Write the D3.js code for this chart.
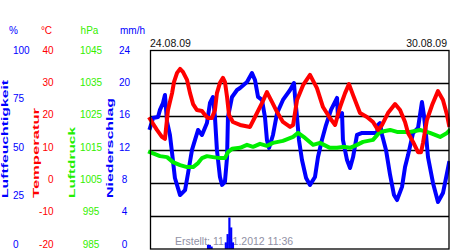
<!DOCTYPE html>
<html>
<head>
<meta charset="utf-8">
<script src="https://cdn.jsdelivr.net/npm/d3@7"></script>
<style>
  html, body { margin: 0; padding: 0; background: #fff; }
  svg { display: block; font-family: "Liberation Sans", Arial, sans-serif; }
</style>
</head>
<body>
<div id="chart"></div>
<script>
// hours since 24.08.09 00:00, values in axis units
const humidity = [[0,60.8],[1.7,65.8],[4.5,66.3],[5.6,69.9],[7.3,73.4],[8.4,77.4],[9.6,63.8],[11.2,57.3],[12.4,48.2],[14.0,35.7],[16.9,27.1],[19.7,29.6],[21.4,38.2],[23.6,49.8],[25.3,54.8],[27.0,59.8],[29.2,57.3],[32.0,63.3],[33.7,73.4],[35.4,76.4],[36.5,66.3],[37.6,49.8],[39.3,36.2],[40.5,32.2],[42.1,33.7],[43.3,46.2],[43.8,66.3],[46.1,76.4],[48.9,79.9],[50.6,80.9],[54.5,83.9],[57.3,88.4],[59.0,84.9],[60.7,76.4],[62.9,74.9],[64.6,66.3],[65.7,54.8],[66.9,50.8],[69.1,57.3],[71.4,68.3],[74.7,74.9],[78.7,79.9],[80.9,83.4],[81.5,76.4],[82.6,66.3],[83.7,54.8],[85.4,44.7],[87.7,35.7],[89.9,32.2],[92.7,36.2],[94.4,46.2],[96.6,54.8],[98.9,62.3],[101.7,69.9],[105.1,75.9],[105.6,66.3],[107.9,68.3],[108.4,54.8],[110.7,44.7],[112.4,40.7],[114.1,46.2],[116.3,57.3],[119.2,58.3],[127.6,58.3],[128.1,62.3],[129.2,63.3],[130.4,57.3],[132.6,49.8],[134.9,37.2],[137.1,27.1],[138.8,24.6],[141.6,31.2],[143.3,41.2],[145.0,47.2],[147.8,58.3],[150.6,60.8],[152.8,73.9],[153.9,67.3],[155.1,57.3],[156.2,46.2],[159.0,33.2],[161.8,23.6],[164.6,28.1],[166.9,38.2],[168.0,43.2]];

const temperature = [[0,19.2],[3.9,15.9],[6.7,13.8],[8.4,13.2],[10.1,21.9],[12.4,27.0],[13.5,30.4],[15.2,33.1],[16.9,34.3],[18.5,33.4],[20.8,31.0],[22.5,27.0],[24.2,23.7],[26.4,21.9],[29.2,21.6],[30.9,20.4],[32.6,19.5],[34.8,19.5],[36.5,21.9],[37.6,27.0],[39.3,30.1],[41.0,31.6],[42.1,30.4],[43.3,25.8],[44.4,20.4],[46.6,18.3],[50.6,17.4],[56.2,16.8],[59.0,19.8],[62.9,24.0],[65.7,27.3],[68.6,24.3],[71.4,21.3],[74.7,18.3],[78.7,16.8],[80.4,17.4],[82.6,24.9],[86.0,29.4],[89.9,32.5],[93.8,28.5],[97.2,22.8],[101.1,19.5],[104.0,17.4],[106.8,22.8],[109.6,27.0],[111.8,29.7],[114.1,26.4],[118.0,21.0],[121.9,19.8],[125.3,18.3],[128.1,15.9],[130.4,17.4],[133.7,21.0],[137.7,23.7],[140.5,21.9],[143.3,18.3],[145.0,15.0],[147.8,12.3],[150.6,9.2],[152.3,9.2],[153.4,12.0],[155.6,18.9],[158.5,23.4],[161.8,27.6],[164.6,24.9],[166.9,20.4],[168.0,17.4]];

const pressure = [[0,1014.2],[5.6,1013.0],[9.6,1012.7],[12.9,1011.2],[16.9,1010.3],[20.8,1009.7],[24.2,1009.7],[27.0,1010.9],[29.2,1012.4],[32.0,1013.0],[35.4,1012.7],[39.3,1012.4],[42.1,1012.4],[43.8,1014.2],[46.1,1015.2],[50.6,1015.5],[54.5,1016.4],[57.9,1015.8],[61.8,1016.7],[65.7,1016.1],[69.1,1017.0],[74.7,1017.6],[80.4,1018.8],[83.2,1020.0],[87.1,1018.5],[91.6,1016.4],[95.5,1017.0],[101.1,1015.5],[105.1,1015.5],[108.4,1015.8],[112.4,1015.5],[116.3,1016.4],[119.7,1017.3],[125.3,1017.9],[129.2,1020.3],[134.9,1020.9],[138.8,1020.3],[146.1,1020.3],[151.7,1020.9],[157.3,1020.0],[163.0,1018.8],[166.9,1020.0],[168,1020.6]];

const rain = [[32.5,0.5],[33.5,0.5],[34.5,0.3],[42.5,0.8],[43.5,1.8],[44.5,3.8],[45.5,2.6],[46.5,0.8]];

const humTicks = [0, 25, 50, 75, 100];
const tempTicks = [-20, -10, 0, 10, 20, 30, 40];
const presTicks = [985, 995, 1005, 1015, 1025, 1035, 1045];
const rainTicks = [0, 4, 8, 12, 16, 20, 24];
const gridValues = [-10, 0, 10, 20, 30];
const startLabel = "24.08.09";
const endLabel = "30.08.09";
const createdLabel = "Erstellt: 11.01.2012 11:36";

const W = 450, H = 250;
const plot = { left: 150, right: 449, top: 50, bottom: 249 };
const labelTop = 50, labelBottom = 244;

const svg = d3.select("#chart").append("svg")
    .attr("width", W)
    .attr("height", H);

const x = d3.scaleLinear().domain([0, 168]).range([plot.left, plot.right]);
const yHum = d3.scaleLinear().domain([0, 100]).range([plot.bottom, plot.top]);
const yTemp = d3.scaleLinear().domain([-20, 40]).range([plot.bottom, plot.top]);
const yPres = d3.scaleLinear().domain([985, 1045]).range([plot.bottom, plot.top]);
const yRain = d3.scaleLinear().domain([0, 24]).range([plot.bottom, plot.top]);

// label scales (labels sit a bit tighter than the grid)
const lab = dom => d3.scaleLinear().domain(dom).range([labelBottom, labelTop]);

// grid lines
svg.append("g").selectAll("line")
    .data(gridValues)
    .join("line")
    .attr("x1", plot.left).attr("x2", plot.right)
    .attr("y1", d => Math.round(yTemp(d)) + 0.5)
    .attr("y2", d => Math.round(yTemp(d)) + 0.5)
    .attr("stroke", "#000")
    .attr("stroke-width", 1.3);

// created stamp (sits under the rain bars)
svg.append("text")
    .attr("x", 175).attr("y", 245)
    .attr("font-size", 10.5)
    .attr("fill", "#9090a4")
    .text(createdLabel);

// rain bars
const barW = x(1) - x(0);
svg.append("g").selectAll("rect")
    .data(rain)
    .join("rect")
    .attr("x", d => x(d[0]) - barW / 2)
    .attr("width", barW + 0.4)
    .attr("y", d => yRain(d[1]))
    .attr("height", d => yRain(0) - yRain(d[1]))
    .attr("fill", "#0000ff");

function drawLine(data, y, color) {
    svg.append("path")
        .datum(data)
        .attr("fill", "none")
        .attr("stroke", color)
        .attr("stroke-width", 4)
        .attr("stroke-linejoin", "round")
        .attr("stroke-linecap", "square")
        .attr("d", d3.line().x(d => x(d[0])).y(d => y(d[1])));
}

drawLine(humidity, yHum, "#0000ff");
drawLine(pressure, yPres, "#00ee00");
drawLine(temperature, yTemp, "#ff0000");

// frame
svg.append("rect")
    .attr("x", plot.left + 0.5).attr("y", plot.top + 0.5)
    .attr("width", plot.right - plot.left - 0.5)
    .attr("height", plot.bottom - plot.top - 0.5)
    .attr("fill", "none")
    .attr("stroke", "#000")
    .attr("stroke-width", 1.3);

// date labels
svg.append("text").attr("x", plot.left).attr("y", 47)
    .attr("font-size", 10.5).attr("fill", "#111").text(startLabel);
svg.append("text").attr("x", 447).attr("y", 47)
    .attr("text-anchor", "end")
    .attr("font-size", 10.5).attr("fill", "#111").text(endLabel);

// tick label columns
function tickColumn(ticks, scale, xPos, anchor, color) {
    svg.append("g").selectAll("text")
        .data(ticks)
        .join("text")
        .attr("x", xPos)
        .attr("y", d => scale(d))
        .attr("dy", "0.36em")
        .attr("text-anchor", anchor)
        .attr("font-size", 10)
        .attr("fill", color)
        .text(d => d);
}
tickColumn(humTicks, lab([0, 100]), 13, "start", "#0000ff");
tickColumn(tempTicks, lab([-20, 40]), 53.5, "end", "#ff0000");
tickColumn(presTicks, lab([985, 1045]), 91, "middle", "#33ee00");
tickColumn(rainTicks, lab([0, 24]), 124.5, "middle", "#0000ff");

// units
const units = [
    { t: "%", x: 13.5, c: "#0000ff" },
    { t: "°C", x: 46.5, c: "#ff0000" },
    { t: "hPa", x: 89.5, c: "#33ee00" },
    { t: "mm/h", x: 132.5, c: "#0000ff" }
];
svg.append("g").selectAll("text")
    .data(units)
    .join("text")
    .attr("x", d => d.x).attr("y", 30)
    .attr("dy", "0.36em")
    .attr("text-anchor", "middle")
    .attr("font-size", 10)
    .attr("fill", d => d.c)
    .text(d => d.t);

// rotated axis titles (stretched along their length)
const titles = [
    { t: "Luftfeuchtigkeit", x: 8, len: 118, c: "#0000ff" },
    { t: "Temperatur", x: 38.5, len: 90, c: "#ff0000" },
    { t: "Luftdruck", x: 75, len: 71, c: "#22ee00" },
    { t: "Niederschlag", x: 113, len: 100, c: "#0000ff" }
];
svg.append("g").selectAll("text")
    .data(titles)
    .join("text")
    .attr("transform", d => `translate(${d.x},198) rotate(-90)`)
    .attr("font-size", 9.5)
    .attr("font-weight", "bold")
    .attr("fill", d => d.c)
    .attr("textLength", d => d.len)
    .attr("lengthAdjust", "spacingAndGlyphs")
    .text(d => d.t);
</script>
</body>
</html>
